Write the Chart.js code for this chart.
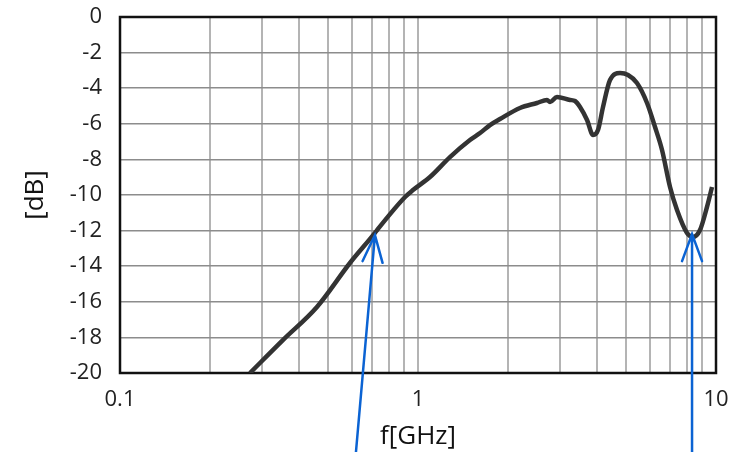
<!DOCTYPE html>
<html>
<head>
<meta charset="utf-8">
<script src="https://cdn.jsdelivr.net/npm/chart.js@4.4.0/dist/chart.umd.min.js"></script>
<style>
  html, body { margin: 0; padding: 0; background: #fff; }
  #wrap { width: 749px; height: 452px; }
</style>
</head>
<body>
<div id="wrap"><canvas id="lossChart"></canvas></div>
<script>
// measured response, frequency in GHz and level in dB
const freqGHz = [0.273, 0.352, 0.458, 0.591, 0.717, 0.729, 0.905, 0.962, 1.097, 1.28, 1.494, 1.615, 1.744, 1.884,
                 2.199, 2.507, 2.71, 2.773, 2.927, 3.237, 3.365, 3.497, 3.692, 3.867, 4.018, 4.177, 4.409, 4.764, 5.068,
                 5.43, 5.869, 6.243, 6.59, 7.01, 7.399, 7.993, 8.371, 8.838, 9.329, 9.697];
const levelDb = [-20, -18.15, -16.29, -13.82, -12.13, -11.97, -10.11, -9.72, -8.99, -7.87, -6.91, -6.52, -6.07, -5.73,
                 -5.11, -4.83, -4.66, -4.78, -4.49, -4.66, -4.72, -5.06, -5.79, -6.63, -6.35, -5.06, -3.54, -3.15, -3.26,
                 -3.71, -4.83, -6.18, -7.47, -9.55, -10.84, -12.13, -12.36, -11.97, -10.67, -9.55];

// log grid: every integer step per decade, labelled only at decades
const xGridTicks = [0.1, 0.2, 0.3, 0.4, 0.5, 0.6, 0.7, 0.8, 0.9, 1, 2, 3, 4, 5, 6, 7, 8, 9, 10];
const xLabelled = [0.1, 1, 10];

// arrows pointing at the two -12 dB crossings: [freq, dB] for tip and tail
const arrowTips = [[0.717, -12.25], [8.31, -12.2]];
const arrowTails = [[0.615, -25], [8.31, -25]];

const tickFont = { family: 'Open Sans', size: 22 };
const titleFont = { family: 'Open Sans', size: 26 };

const framePlugin = {
    id: 'frame',
    beforeDatasetsDraw(chart) {
        const { ctx, chartArea: a } = chart;
        ctx.save();
        ctx.strokeStyle = '#111';
        ctx.lineWidth = 2.5;
        ctx.strokeRect(a.left, a.top, a.right - a.left, a.bottom - a.top);
        ctx.restore();
    }
};

const arrowPlugin = {
    id: 'arrows',
    afterDraw(chart) {
        const { ctx, scales: { x, y } } = chart;
        ctx.save();
        ctx.strokeStyle = '#0b63d3';
        ctx.lineWidth = 2.5;
        ctx.lineCap = 'round';
        arrowTips.forEach((tip, i) => {
            const tx = x.getPixelForValue(tip[0]), ty = y.getPixelForValue(tip[1]);
            const sx = x.getPixelForValue(arrowTails[i][0]), sy = y.getPixelForValue(arrowTails[i][1]);
            const ang = Math.atan2(ty - sy, tx - sx);
            const back = 27, half = 10;
            const bx = tx - Math.cos(ang) * back, by = ty - Math.sin(ang) * back;
            const px = -Math.sin(ang) * half, py = Math.cos(ang) * half;
            ctx.beginPath();
            ctx.moveTo(sx, sy);
            ctx.lineTo(tx, ty);
            ctx.moveTo(bx + px, by + py);
            ctx.lineTo(tx, ty);
            ctx.lineTo(bx - px, by - py);
            ctx.stroke();
        });
        ctx.restore();
    }
};

const ctx = document.getElementById('lossChart').getContext('2d');
const lossChart = new Chart(ctx, {
    type: 'line',
    data: {
        datasets: [{
            data: freqGHz.map((f, i) => ({ x: f, y: levelDb[i] })),
            borderColor: '#333',
            borderWidth: 4.5,
            pointRadius: 0,
            fill: false,
            cubicInterpolationMode: 'monotone'
        }]
    },
    options: {
        responsive: true,
        maintainAspectRatio: false,
        animation: false,
        layout: { padding: { top: 17, right: 33, left: 0, bottom: 0 } },
        plugins: {
            legend: { display: false },
            tooltip: { enabled: false }
        },
        scales: {
            x: {
                type: 'logarithmic',
                min: 0.1,
                max: 10,
                afterBuildTicks: s => { s.ticks = xGridTicks.map(v => ({ value: v })); },
                afterFit: s => { s.height = 79; },
                ticks: {
                    autoSkip: false,
                    maxRotation: 0,
                    color: '#222',
                    font: tickFont,
                    padding: 14,
                    callback: v => xLabelled.includes(v) ? String(v) : ''
                },
                grid: { color: '#b4b4b4', lineWidth: 2, drawTicks: false },
                border: { display: false },
                title: { display: true, text: 'f[GHz]', color: '#111', font: titleFont, padding: { top: 0, bottom: 0 } }
            },
            y: {
                min: -20,
                max: 0,
                // keep the "0" label from pushing the plot area down
                afterFit: s => { s.width = 120; s.paddingTop = 0; s.paddingBottom = 0; },
                ticks: { stepSize: 2, color: '#222', font: tickFont, padding: 18 },
                grid: { color: '#8c8c8c', lineWidth: 1.5, drawTicks: false },
                border: { display: false },
                title: { display: true, text: '[dB]', color: '#111', font: titleFont, padding: { top: 20, bottom: 0 } }
            }
        }
    },
    plugins: [framePlugin, arrowPlugin]
});
</script>
</body>
</html>
